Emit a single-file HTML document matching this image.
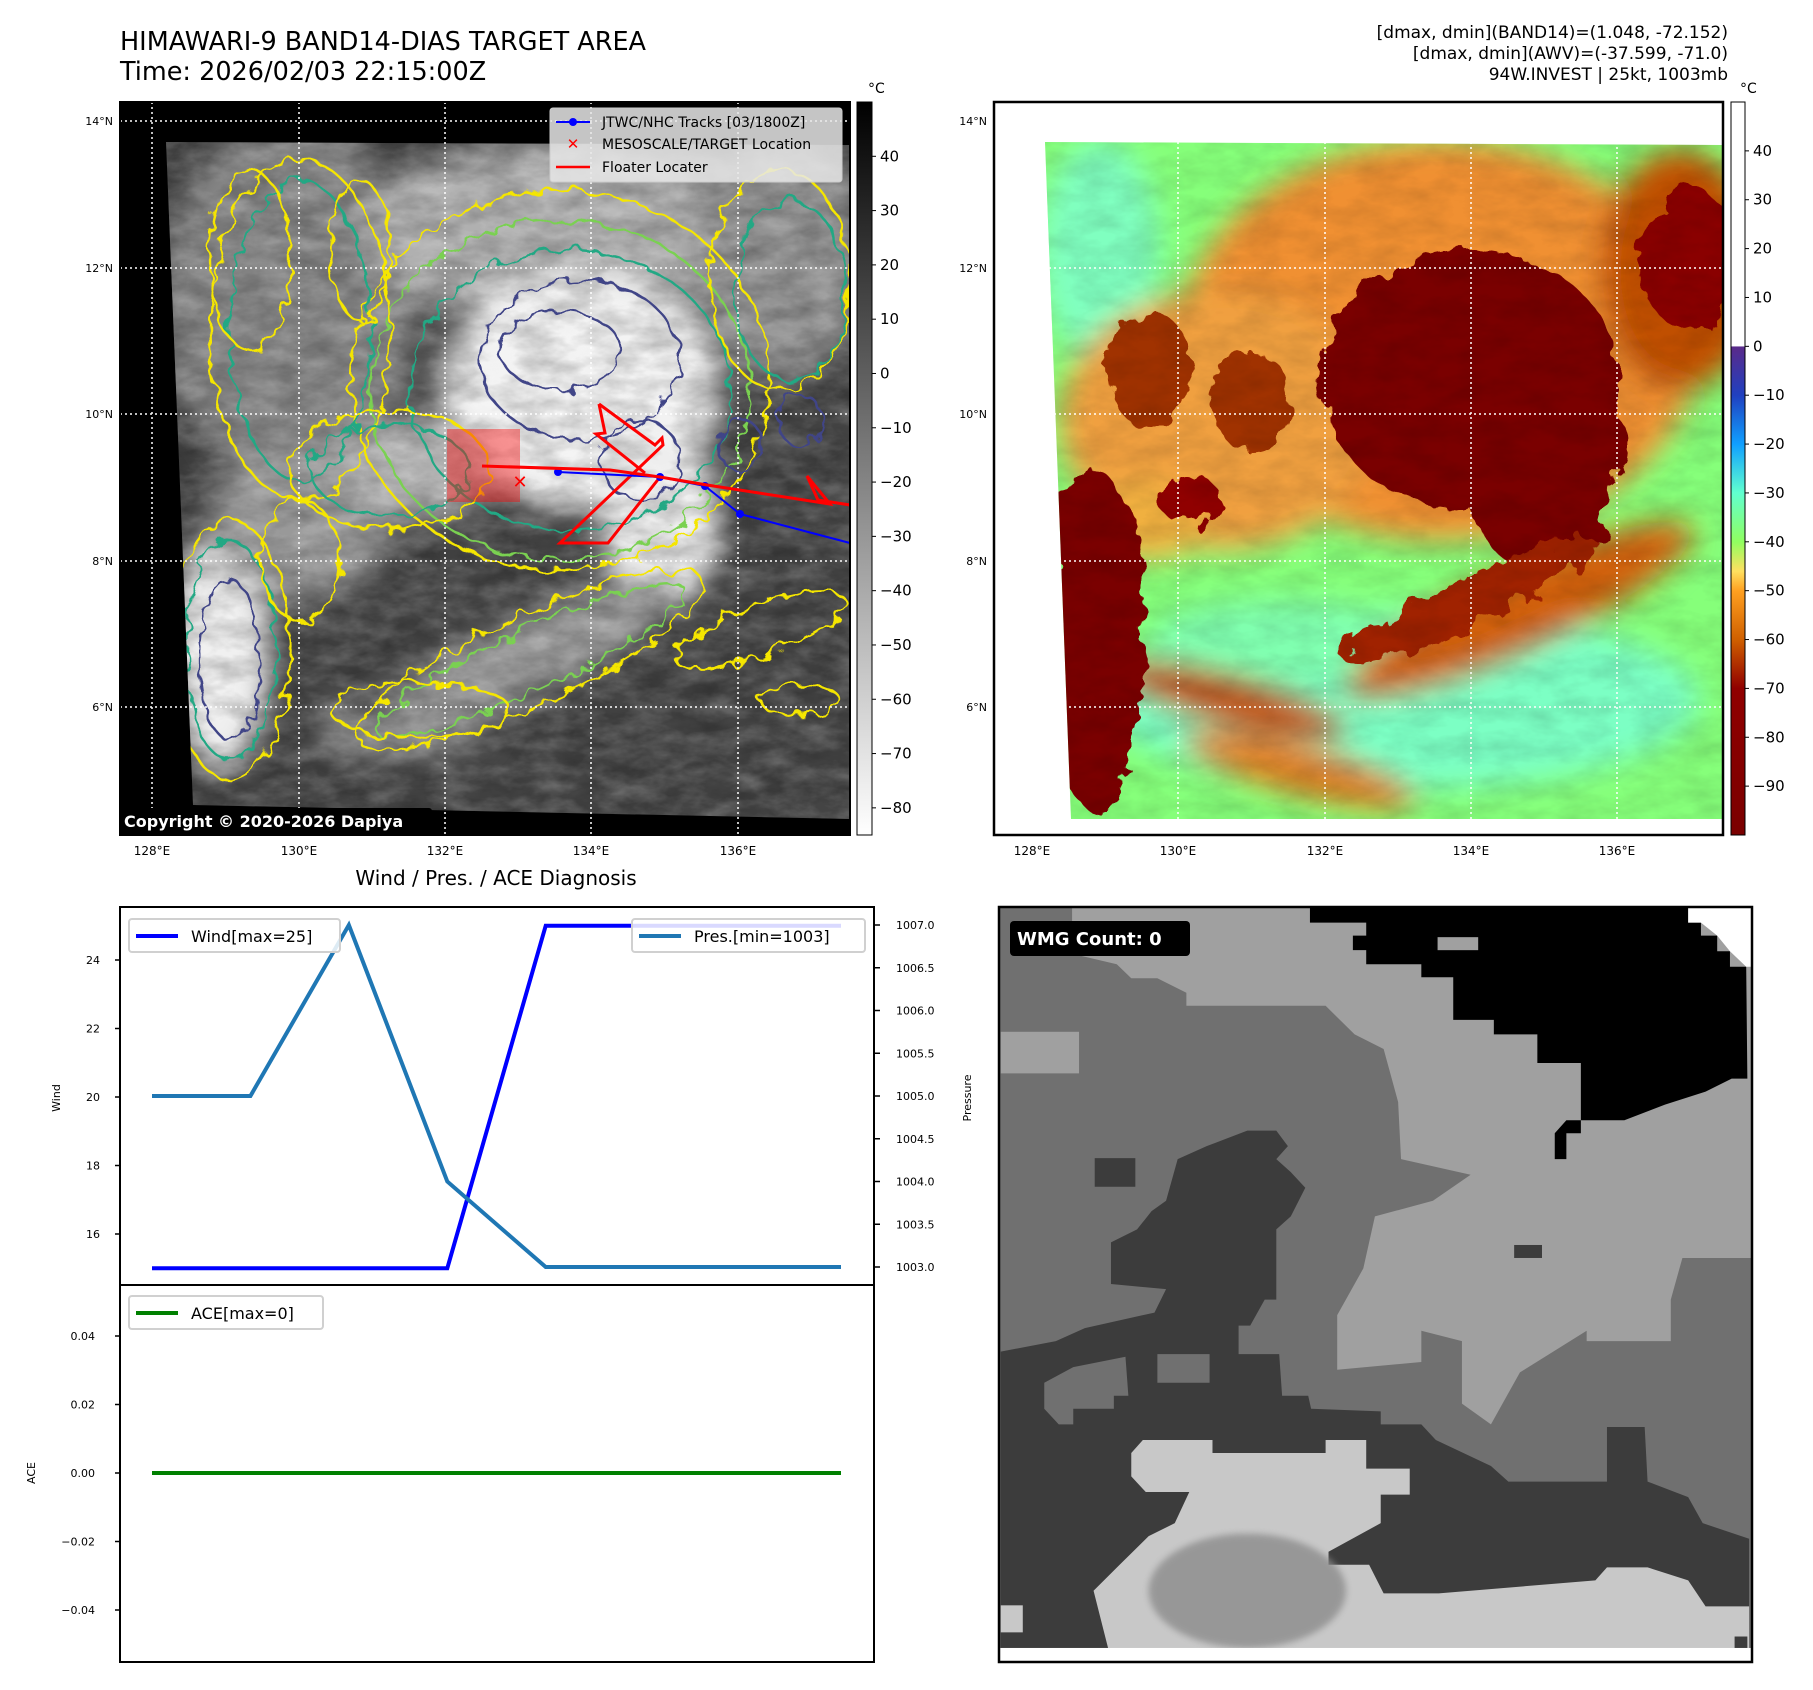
<!DOCTYPE html>
<html><head><meta charset="utf-8"><style>
html,body{margin:0;padding:0;background:#fff;}
svg{display:block;font-family:"DejaVu Sans","Liberation Sans",sans-serif;}
</style></head><body>
<svg id="fig" width="1813" height="1690" viewBox="0 0 1813 1690" xmlns="http://www.w3.org/2000/svg">
<defs>
<filter id="blur" x="-20%" y="-20%" width="140%" height="140%"><feGaussianBlur stdDeviation="14"/></filter>
<filter id="blur2" x="-20%" y="-20%" width="140%" height="140%"><feGaussianBlur stdDeviation="6"/></filter>
<filter id="wig" x="-10%" y="-10%" width="120%" height="120%"><feTurbulence type="fractalNoise" baseFrequency="0.06" numOctaves="2" seed="3"/><feDisplacementMap in="SourceGraphic" scale="18"/></filter>
<filter id="wig2" x="-10%" y="-10%" width="120%" height="120%"><feTurbulence type="fractalNoise" baseFrequency="0.04" numOctaves="3" seed="7"/><feDisplacementMap in="SourceGraphic" scale="30"/></filter>
<filter id="noise" x="0" y="0" width="100%" height="100%"><feTurbulence type="fractalNoise" baseFrequency="0.025 0.05" numOctaves="4" seed="11"/><feColorMatrix type="matrix" values="0 0 0 0 0  0 0 0 0 0  0 0 0 0 0  1.6 0 0 0 -0.5"/></filter>
<filter id="noiseW" x="0" y="0" width="100%" height="100%"><feTurbulence type="fractalNoise" baseFrequency="0.03 0.06" numOctaves="4" seed="5"/><feColorMatrix type="matrix" values="0 0 0 0 1  0 0 0 0 1  0 0 0 0 1  1.6 0 0 0 -0.55"/></filter>
<clipPath id="clipL"><polygon points="166,142 850,145 850,819 193,805"/></clipPath>
<clipPath id="clipR"><polygon points="1045,142 1723,145 1723,819 1071,819"/></clipPath>
<linearGradient id="cbGray" x1="0" y1="0" x2="0" y2="1"><stop offset="0" stop-color="#000"/><stop offset="1" stop-color="#fff"/></linearGradient>
<linearGradient id="cbColor" x1="0" y1="0" x2="0" y2="1">
<stop offset="0" stop-color="#fff"/><stop offset="0.333" stop-color="#fff"/>
<stop offset="0.334" stop-color="#5a2a8a"/><stop offset="0.40" stop-color="#2040c0"/>
<stop offset="0.467" stop-color="#10a0ff"/><stop offset="0.533" stop-color="#60ffd0"/>
<stop offset="0.60" stop-color="#90ff60"/><stop offset="0.64" stop-color="#ffe060"/>
<stop offset="0.667" stop-color="#ffa020"/><stop offset="0.733" stop-color="#d06000"/>
<stop offset="0.80" stop-color="#900000"/><stop offset="1" stop-color="#7a0000"/>
</linearGradient>
</defs>

<!-- titles -->
<text x="120" y="50" font-size="25.5">HIMAWARI-9 BAND14-DIAS TARGET AREA</text>
<text x="120" y="80" font-size="25.5">Time: 2026/02/03 22:15:00Z</text>
<g font-size="17" text-anchor="end">
<text x="1728" y="38">[dmax, dmin](BAND14)=(1.048, -72.152)</text>
<text x="1728" y="59">[dmax, dmin](AWV)=(-37.599, -71.0)</text>
<text x="1728" y="80">94W.INVEST | 25kt, 1003mb</text>
</g>

<!-- LEFT MAP -->
<g>
<rect x="120" y="102" width="730" height="733" fill="#000"/>
<g clip-path="url(#clipL)">
<rect x="120" y="102" width="730" height="733" fill="#444"/>
<g filter="url(#blur)">
<ellipse cx="290" cy="300" rx="130" ry="180" fill="#858585"/>
<ellipse cx="560" cy="230" rx="200" ry="90" fill="#b0b0b0"/>
<ellipse cx="780" cy="260" rx="90" ry="120" fill="#909090"/>
<ellipse cx="580" cy="390" rx="140" ry="120" fill="#f2f2f2"/>
<ellipse cx="660" cy="520" rx="60" ry="90" fill="#eeeeee"/>
<ellipse cx="220" cy="650" rx="50" ry="120" fill="#f0f0f0"/>
<ellipse cx="300" cy="520" rx="90" ry="80" fill="#999"/>
<ellipse cx="420" cy="470" rx="70" ry="50" fill="#bbb"/>
<ellipse cx="520" cy="660" rx="170" ry="40" fill="#9a9a9a" transform="rotate(-25 520 660)"/>
<ellipse cx="400" cy="730" rx="90" ry="30" fill="#888"/>
</g>
<rect x="120" y="102" width="730" height="733" filter="url(#noiseW)" opacity="0.25"/>
<rect x="120" y="102" width="730" height="733" filter="url(#noise)" opacity="0.25"/>
<g fill="none" stroke-width="2.4" filter="url(#wig)">
<ellipse cx="560" cy="380" rx="210" ry="190" stroke="#f5e600"/>
<ellipse cx="560" cy="390" rx="190" ry="170" stroke="#7ad151"/>
<ellipse cx="570" cy="390" rx="160" ry="140" stroke="#22a884"/>
<ellipse cx="580" cy="360" rx="100" ry="80" stroke="#414487"/>
<ellipse cx="560" cy="350" rx="60" ry="40" stroke="#414487"/>
<ellipse cx="640" cy="460" rx="40" ry="40" stroke="#414487"/>
<ellipse cx="740" cy="445" rx="22" ry="26" stroke="#414487"/>
<ellipse cx="800" cy="420" rx="22" ry="26" stroke="#414487"/>
<ellipse cx="300" cy="330" rx="90" ry="170" stroke="#f5e600"/>
<ellipse cx="300" cy="330" rx="70" ry="150" stroke="#22a884"/>
<ellipse cx="250" cy="260" rx="40" ry="90" stroke="#f5e600"/>
<ellipse cx="360" cy="250" rx="30" ry="70" stroke="#f5e600"/>
<ellipse cx="230" cy="650" rx="60" ry="130" stroke="#f5e600"/>
<ellipse cx="230" cy="650" rx="45" ry="110" stroke="#22a884"/>
<ellipse cx="230" cy="660" rx="30" ry="80" stroke="#414487"/>
<ellipse cx="530" cy="660" rx="190" ry="45" stroke="#f5e600" transform="rotate(-25 530 660)"/>
<ellipse cx="530" cy="660" rx="170" ry="30" stroke="#7ad151" transform="rotate(-25 530 660)"/>
<ellipse cx="420" cy="710" rx="90" ry="28" stroke="#f5e600"/>
<ellipse cx="780" cy="280" rx="70" ry="110" stroke="#f5e600"/>
<ellipse cx="790" cy="290" rx="55" ry="90" stroke="#22a884"/>
<ellipse cx="760" cy="630" rx="90" ry="25" stroke="#f5e600" transform="rotate(-20 760 630)"/>
<ellipse cx="800" cy="700" rx="40" ry="15" stroke="#f5e600"/>
<ellipse cx="390" cy="470" rx="100" ry="60" stroke="#f5e600"/>
<ellipse cx="390" cy="470" rx="80" ry="45" stroke="#22a884"/>
<ellipse cx="300" cy="560" rx="40" ry="60" stroke="#f5e600"/>
</g>
</g>
<g stroke="#fff" stroke-width="1.5" stroke-dasharray="2,3">
<line x1="152" y1="102" x2="152" y2="835"/><line x1="299" y1="102" x2="299" y2="835"/><line x1="445" y1="102" x2="445" y2="835"/><line x1="591" y1="102" x2="591" y2="835"/><line x1="738" y1="102" x2="738" y2="835"/>
<line x1="120" y1="121" x2="850" y2="121"/><line x1="120" y1="268" x2="850" y2="268"/><line x1="120" y1="414" x2="850" y2="414"/><line x1="120" y1="561" x2="850" y2="561"/><line x1="120" y1="707" x2="850" y2="707"/>
</g>
<rect x="447" y="429" width="73" height="73" fill="#ff0000" fill-opacity="0.4"/>
<polyline points="599,404 605,433 596,434 645,473" fill="none" stroke="#f00" stroke-width="3"/>
<polyline points="599,404 655,445 662,438 663,445 560,543 608,543 660,477" fill="none" stroke="#f00" stroke-width="3"/>
<polyline points="558,472 660,477 705,486 740,514 850,543" fill="none" stroke="#00f" stroke-width="2"/>
<g fill="#00f"><circle cx="558" cy="472" r="4"/><circle cx="660" cy="477" r="4"/><circle cx="705" cy="486" r="4"/><circle cx="740" cy="514" r="4"/></g>
<polyline points="482,466 610,470 660,477 707,485 830,504 807,476 818,500 850,505" fill="none" stroke="#f00" stroke-width="3"/>
<text x="520" y="488" font-size="18" font-weight="bold" fill="#f00" text-anchor="middle">✕</text>
<rect x="120" y="102" width="730" height="733" fill="none" stroke="#000" stroke-width="2"/>
<g>
<rect x="550" y="108" width="292" height="74" rx="3" fill="#e8e8e8" fill-opacity="0.85" stroke="#ccc"/>
<line x1="556" y1="122" x2="590" y2="122" stroke="#00f" stroke-width="2"/><circle cx="573" cy="122" r="4" fill="#00f"/>
<text x="602" y="127" font-size="14">JTWC/NHC Tracks [03/1800Z]</text>
<text x="573" y="149" font-size="15" font-weight="bold" fill="#f00" text-anchor="middle">✕</text>
<text x="602" y="149" font-size="14">MESOSCALE/TARGET Location</text>
<line x1="556" y1="167" x2="590" y2="167" stroke="#f00" stroke-width="2.5"/>
<text x="602" y="172" font-size="14">Floater Locater</text>
</g>
<g>
<rect x="120" y="808" width="312" height="26" rx="3" fill="#000"/>
<text x="124" y="827" font-size="16" font-weight="bold" fill="#fff">Copyright © 2020-2026 Dapiya</text>
</g>
<g font-size="11" text-anchor="end">
<text x="113" y="125">14°N</text><text x="113" y="272">12°N</text><text x="113" y="418">10°N</text><text x="113" y="565">8°N</text><text x="113" y="711">6°N</text>
</g>
<g font-size="12" text-anchor="middle">
<text x="152" y="855">128°E</text><text x="299" y="855">130°E</text><text x="445" y="855">132°E</text><text x="591" y="855">134°E</text><text x="738" y="855">136°E</text>
</g>
</g>
<!-- left colorbar -->
<g>
<rect x="857" y="102" width="15" height="733" fill="url(#cbGray)" stroke="#000" stroke-width="1"/>
<text x="868" y="93" font-size="14">°C</text>
<g id="cbLticks" font-size="15"></g>
</g>

<!-- RIGHT MAP -->
<g>
<g clip-path="url(#clipR)">
<rect x="994" y="102" width="730" height="733" fill="#86ff7a"/>
<g filter="url(#blur)">
<ellipse cx="1100" cy="250" rx="60" ry="110" fill="#80ffc0"/>
<ellipse cx="1400" cy="700" rx="300" ry="90" fill="#7cffc4"/>
<ellipse cx="1280" cy="640" rx="130" ry="40" fill="#80ffb0"/>
<ellipse cx="1440" cy="340" rx="260" ry="200" fill="#f09030"/>
<ellipse cx="1220" cy="420" rx="160" ry="130" fill="#f0a040"/>
<ellipse cx="1680" cy="270" rx="80" ry="120" fill="#c05000"/>
<ellipse cx="1520" cy="610" rx="190" ry="40" fill="#d06010" transform="rotate(-25 1520 610)"/>
<ellipse cx="1230" cy="700" rx="120" ry="25" fill="#c05000" transform="rotate(15 1230 700)"/>
<ellipse cx="1300" cy="770" rx="120" ry="25" fill="#e08020" transform="rotate(15 1300 770)"/>
<ellipse cx="1150" cy="520" rx="60" ry="40" fill="#f0b040"/>
</g>
<g filter="url(#wig2)">
<ellipse cx="1470" cy="380" rx="150" ry="130" fill="#7a0000"/>
<ellipse cx="1540" cy="490" rx="70" ry="80" fill="#7a0000"/>
<ellipse cx="1095" cy="640" rx="50" ry="170" fill="#7a0000"/>
<ellipse cx="1690" cy="260" rx="50" ry="70" fill="#8a0000"/>
<ellipse cx="1600" cy="450" rx="30" ry="40" fill="#7a0000"/>
<ellipse cx="1150" cy="370" rx="40" ry="60" fill="#a03000"/>
<ellipse cx="1250" cy="400" rx="40" ry="50" fill="#a03000"/>
<ellipse cx="1190" cy="500" rx="30" ry="25" fill="#900000"/>
<ellipse cx="1470" cy="600" rx="140" ry="22" fill="#a02000" transform="rotate(-25 1470 600)"/>
</g>
<rect x="994" y="102" width="730" height="733" filter="url(#noise)" opacity="0.12"/>
</g>
<g stroke="#fff" stroke-width="1.5" stroke-dasharray="2,3">
<line x1="1032" y1="102" x2="1032" y2="835"/><line x1="1178" y1="102" x2="1178" y2="835"/><line x1="1325" y1="102" x2="1325" y2="835"/><line x1="1471" y1="102" x2="1471" y2="835"/><line x1="1617" y1="102" x2="1617" y2="835"/>
<line x1="994" y1="121" x2="1723" y2="121"/><line x1="994" y1="268" x2="1723" y2="268"/><line x1="994" y1="414" x2="1723" y2="414"/><line x1="994" y1="561" x2="1723" y2="561"/><line x1="994" y1="707" x2="1723" y2="707"/>
</g>
<rect x="994" y="102" width="729" height="733" fill="none" stroke="#000" stroke-width="2.5"/>
<g font-size="11" text-anchor="end">
<text x="987" y="125">14°N</text><text x="987" y="272">12°N</text><text x="987" y="418">10°N</text><text x="987" y="565">8°N</text><text x="987" y="711">6°N</text>
</g>
<g font-size="12" text-anchor="middle">
<text x="1032" y="855">128°E</text><text x="1178" y="855">130°E</text><text x="1325" y="855">132°E</text><text x="1471" y="855">134°E</text><text x="1617" y="855">136°E</text>
</g>
</g>
<g>
<rect x="1731" y="102" width="14" height="733" fill="url(#cbColor)" stroke="#000" stroke-width="1"/>
<text x="1740" y="93" font-size="14">°C</text>
<g id="cbRticks" font-size="15"></g>
</g>

<!-- WIND/PRES/ACE CHART -->
<text x="496" y="885" font-size="20" text-anchor="middle">Wind / Pres. / ACE Diagnosis</text>
<g id="chart"></g>

<!-- WMG panel -->
<g>
<svg x="999" y="907" width="753" height="755" viewBox="152 45 1298 1452" preserveAspectRatio="none">
<rect x="152" y="45" width="1298" height="1452" fill="#707070"/>
<polygon fill="#a0a0a0" points="278,45 1450,45 1450,720 1330,720 1310,800 1310,880 1165,880 1165,860 1050,940 1000,1040 950,1000 950,880 880,860 880,920 735,935 735,830 780,740 800,640 900,610 965,560 845,530 840,420 815,318 765,290 715,235 475,235 475,210 425,182 380,182 355,155 278,135"/>
<rect x="155" y="285" width="135" height="80" fill="#a0a0a0"/>
<polygon fill="#000" points="688,45 1340,45 1340,75 1362,75 1362,100 1390,100 1390,130 1412,130 1412,160 1440,160 1442,375 1415,375 1370,400 1300,425 1230,455 1155,455 1155,480 1130,480 1130,530 1110,530 1110,480 1130,455 1155,455 1155,345 1080,345 1080,290 1005,290 1005,262 935,262 935,180 880,180 880,155 785,155 785,128 762,128 762,100 785,100 785,75 688,75"/>
<polygon fill="#fff" points="1340,45 1450,45 1450,160 1440,160 1412,130 1390,100 1362,75 1340,75"/>
<rect x="908" y="103" width="70" height="25" fill="#a0a0a0"/>
<polygon fill="#3c3c3c" points="580,475 630,475 650,505 630,530 655,555 680,585 655,640 630,665 630,800 610,800 585,850 565,850 565,905 635,905 640,985 685,985 690,1010 810,1015 810,1040 880,1040 905,1070 1000,1120 1030,1150 1200,1150 1200,1045 1265,1045 1270,1150 1340,1180 1365,1230 1445,1260 1445,1470 155,1470 155,900 250,880 300,855 420,825 440,780 345,770 345,690 390,665 415,630 440,610 460,530 510,505"/>
<rect x="317" y="528" width="70" height="55" fill="#3c3c3c"/>
<rect x="1040" y="695" width="48" height="25" fill="#3c3c3c"/>
<polygon fill="#707070" points="230,960 280,930 370,910 375,985 350,985 350,1010 280,1010 280,1040 255,1040 230,1010"/>
<polygon fill="#707070" points="425,905 515,905 515,960 425,960"/>
<polygon fill="#c8c8c8" points="380,1095 400,1070 520,1070 520,1095 715,1095 715,1070 785,1070 785,1125 860,1125 860,1175 810,1175 810,1230 720,1285 720,1310 790,1310 815,1365 910,1365 1180,1340 1200,1315 1270,1315 1340,1340 1370,1390 1445,1390 1445,1470 340,1470 315,1360 360,1310 410,1255 455,1230 480,1170 405,1170 380,1140"/>
<ellipse cx="580" cy="1360" rx="170" ry="110" fill="#8c8c8c" filter="url(#blur2)" opacity="0.8"/>
<rect x="155" y="1388" width="38" height="52" fill="#c8c8c8"/>
<rect x="1420" y="1448" width="22" height="25" fill="#3c3c3c"/>
<rect x="152" y="1470" width="1298" height="27" fill="#fff"/>
</svg>
<rect x="999" y="907" width="753" height="755" fill="none" stroke="#000" stroke-width="2.5"/>
<g>
<rect x="1010" y="921" width="180" height="35" rx="4" fill="#000"/>
<text x="1017" y="945" font-size="18" font-weight="bold" fill="#fff">WMG Count: 0</text>
</g>
</g>
</svg>
<script>
// ---- diagnosis chart data ----
const timeIndex = [0,1,2,3,4,5,6,7];
const windValues = [15,15,15,15,25,25,25,25];
const presValues = [1005,1005,1007,1004,1003,1003,1003,1003];
const aceValues = [0,0,0,0,0,0,0,0];
const windTicks = [16,18,20,22,24];
const presTicks = [1003.0,1003.5,1004.0,1004.5,1005.0,1005.5,1006.0,1006.5,1007.0];
const aceTicks = [0.04,0.02,0.00,-0.02,-0.04];
const irCbTicks = [40,30,20,10,0,-10,-20,-30,-40,-50,-60,-70,-80];
const awvCbTicks = [40,30,20,10,0,-10,-20,-30,-40,-50,-60,-70,-80,-90];

const NS='http://www.w3.org/2000/svg';
function mk(tag, attrs, parent){const e=document.createElementNS(NS,tag);for(const k in attrs)e.setAttribute(k,attrs[k]);parent.appendChild(e);return e;}
function fmtNum(v,d){return (v<0?'\u2212':'')+Math.abs(v).toFixed(d);}

const cbL=document.getElementById('cbLticks');
const yIr=v=>102+(50-v)*(733/135);
irCbTicks.forEach(v=>{
  const y=yIr(v);
  const l=mk('line',{x1:872,x2:876,y1:y,y2:y,stroke:'#000'},cbL);
  
  
  const t=mk('text',{x:880,y:y+5},cbL);t.textContent=fmtNum(v,0);
  
  
});
const cbR=document.getElementById('cbRticks');
const yAwv=v=>102+(50-v)*(733/150);
awvCbTicks.forEach(v=>{
  const y=yAwv(v);
  const l=mk('line',{x1:1745,x2:1749,y1:y,y2:y,stroke:'#000'},cbR);
  
  
  const t=mk('text',{x:1753,y:y+5},cbR);t.textContent=fmtNum(v,0);
  
  
});

const g=document.getElementById('chart');
const X0=120,X1=874,TOP=907,MID=1285,BOT=1662;
const xS=i=>152+i*(841-152)/7;
const yW=w=>960+(24-w)*34.25;
const yP=p=>1267-(p-1003)*85.5;
const yA=a=>1473-a*(68.5/0.02);

mk('rect',{x:X0,y:TOP,width:X1-X0,height:MID-TOP,fill:'#fff',stroke:'#000','stroke-width':2},g);
mk('rect',{x:X0,y:MID,width:X1-X0,height:BOT-MID,fill:'#fff',stroke:'#000','stroke-width':2},g);

windTicks.forEach(v=>{
  const y=yW(v);
  const l=mk('line',{x1:X0-5,x2:X0,y1:y,y2:y,stroke:'#000','stroke-width':1.5},g);
  
  
  const t=mk('text',{x:X0-20,y:y+4,'font-size':11,'text-anchor':'end'},g);t.textContent=v;
  
  
});
presTicks.forEach(v=>{
  const y=yP(v);
  const l=mk('line',{x1:X1,x2:X1+6,y1:y,y2:y,stroke:'#000','stroke-width':1.5},g);
  
  
  const t=mk('text',{x:X1+22,y:y+4,'font-size':11},g);t.textContent=v.toFixed(1);
  
  
});
aceTicks.forEach(v=>{
  const y=yA(v);
  const l=mk('line',{x1:X0-5,x2:X0,y1:y,y2:y,stroke:'#000','stroke-width':1.5},g);
  
  
  const t=mk('text',{x:X0-25,y:y+4,'font-size':11,'text-anchor':'end'},g);t.textContent=fmtNum(v,2);
  
  
});
let t=mk('text',{x:0,y:0,'font-size':11,'text-anchor':'middle',transform:'translate(60,1098) rotate(-90)'},g);t.textContent='Wind';


t=mk('text',{x:0,y:0,'font-size':11,'text-anchor':'middle',transform:'translate(971,1098) rotate(-90)'},g);t.textContent='Pressure';


t=mk('text',{x:0,y:0,'font-size':11,'text-anchor':'middle',transform:'translate(35,1473) rotate(-90)'},g);t.textContent='ACE';



let p=mk('polyline',{points:timeIndex.map(i=>xS(i)+','+yW(windValues[i])).join(' '),fill:'none',stroke:'#0000ff','stroke-width':4},g);


p=mk('polyline',{points:timeIndex.map(i=>xS(i)+','+yP(presValues[i])).join(' '),fill:'none',stroke:'#1f77b4','stroke-width':4},g);


p=mk('polyline',{points:timeIndex.map(i=>xS(i)+','+yA(aceValues[i])).join(' '),fill:'none',stroke:'#008000','stroke-width':4},g);



function legend(x,y,w,color,label,name){
  const lg=mk('g',{},g);
  
  
  mk('rect',{x:x,y:y,width:w,height:33,rx:3,fill:'#fff','fill-opacity':0.85,stroke:'#d0d0d0','stroke-width':2},lg);
  mk('line',{x1:x+7,x2:x+49,y1:y+17,y2:y+17,stroke:color,'stroke-width':4},lg);
  const tx=mk('text',{x:x+62,y:y+23,'font-size':16},lg);tx.textContent=label;
}
legend(129,919,211,'#0000ff','Wind[max=25]','wind-legend');
legend(632,919,233,'#1f77b4','Pres.[min=1003]','pressure-legend');
legend(129,1296,194,'#008000','ACE[max=0]','ace-legend');
</script>
</body></html>
